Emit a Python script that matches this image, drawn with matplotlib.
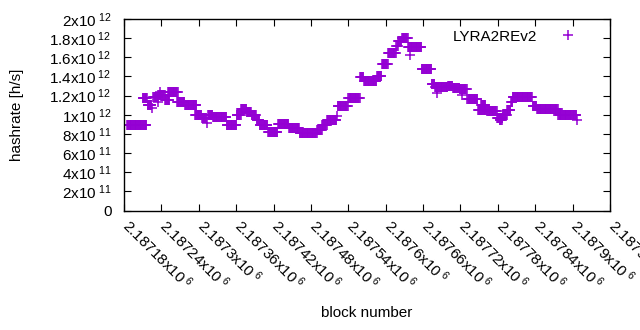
import numpy as np
import matplotlib
matplotlib.use('Agg')
import matplotlib.pyplot as plt
import matplotlib.transforms as mtransforms

plt.rcParams.update({
    'font.family': ['Liberation Sans', 'DejaVu Sans'],
    'font.size': 11,
    'mathtext.fontset': 'custom',
    'mathtext.rm': 'Liberation Sans',
    'mathtext.it': 'Liberation Sans',
})

# block offsets from 2187180 (inclusive runs) and hashrate in units of 1e12 h/s
BASE_BLOCK = 2187180
seg_start = [5, 30, 38, 45, 47, 55, 55, 58, 66, 71, 85, 98, 114, 125, 133, 135,
             143, 165, 181, 188, 197, 205, 213, 218, 231, 247, 265, 282, 310,
             318, 326, 342, 343, 360, 379, 385, 406, 414, 424, 437, 440, 446,
             456, 459, 478, 494, 499, 502, 510, 520, 528, 539, 542, 551, 568,
             573, 583, 599, 603, 608, 615, 621, 624, 656, 663, 697, 727]
seg_end = [36, 37, 44, 45, 54, 55, 65, 58, 73, 86, 97, 116, 124, 132, 133, 142,
           164, 180, 187, 196, 204, 212, 217, 230, 246, 264, 281, 309, 317,
           325, 341, 342, 359, 378, 384, 405, 413, 423, 436, 439, 445, 455,
           477, 459, 493, 498, 509, 502, 519, 527, 538, 550, 542, 567, 582,
           580, 598, 607, 606, 614, 620, 623, 655, 662, 696, 726, 727]
seg_value = [0.89, 1.17, 1.10, 1.07, 1.19, 1.13, 1.21, 1.24, 1.155, 1.235, 1.135,
             1.10, 1.00, 0.965, 0.91, 1.00, 0.975, 0.895, 1.00, 1.057, 1.03,
             1.00, 0.95, 0.89, 0.825, 0.90, 0.865, 0.81, 0.84, 0.89, 0.945,
             0.99, 1.09, 1.18, 1.39, 1.355, 1.40, 1.525, 1.64, 1.72, 1.77,
             1.80, 1.705, 1.625, 1.475, 1.32, 1.285, 1.225, 1.29, 1.305, 1.275,
             1.27, 1.205, 1.16, 1.05, 1.10, 1.04, 0.97, 0.945, 1.00, 1.05,
             1.13, 1.19, 1.09, 1.055, 1.00, 0.945]

x_ticks = [2187180 + 60 * i for i in range(14)]
x_tick_labels = ['2.18718', '2.18724', '2.1873', '2.18736', '2.18742', '2.18748',
                 '2.18754', '2.1876', '2.18766', '2.18772', '2.18778', '2.18784',
                 '2.1879', '2.18796']
y_ticks = [i * 2e11 for i in range(11)]
y_tick_labels = ['0', '2x10$^{\\ 11}$', '4x10$^{\\ 11}$', '6x10$^{\\ 11}$',
                 '8x10$^{\\ 11}$', '1x10$^{\\ 12}$', '1.2x10$^{\\ 12}$',
                 '1.4x10$^{\\ 12}$', '1.6x10$^{\\ 12}$', '1.8x10$^{\\ 12}$',
                 '2x10$^{\\ 12}$']


def main():
    blocks = []
    rates = []
    for s, e, v in zip(seg_start, seg_end, seg_value):
        b = np.arange(s, e + 1)
        blocks.append(BASE_BLOCK + b)
        rates.append(np.full(len(b), v * 1e12))
    blocks = np.concatenate(blocks)
    rates = np.concatenate(rates)

    fig = plt.figure(figsize=(6.4, 3.3), dpi=100)
    ax = fig.add_axes([124 / 640, 1 - 210.5 / 330, 486 / 640, 191.5 / 330])

    ax.plot(blocks, rates, linestyle='none', marker='+', markersize=6.5,
            markeredgewidth=1.1, color='#9400D3', label='LYRA2REv2')

    ax.set_xlim(x_ticks[0], x_ticks[-1])
    ax.set_ylim(0, 2e12)
    ax.set_xticks(x_ticks)
    ax.set_xticklabels([t + 'x10$^{\\ 6}$' for t in x_tick_labels],
                       rotation=-45, ha='left', va='top', rotation_mode='anchor')
    ax.set_yticks(y_ticks)
    ax.set_yticklabels(y_tick_labels)
    ax.tick_params(direction='in', length=5, width=0.8, top=True, right=True,
                   colors='black')
    ax.tick_params(axis='y', pad=9)
    ax.tick_params(axis='x', pad=4)
    shift = mtransforms.ScaledTranslation(8 / 100, 0, fig.dpi_scale_trans)
    for lbl in ax.get_xticklabels():
        lbl.set_transform(lbl.get_transform() + shift)
    for sp in ax.spines.values():
        sp.set_linewidth(1.0)

    ax.set_ylabel('hashrate [h/s]')
    ax.set_xlabel('block number')
    ax.yaxis.set_label_coords(-0.205, 0.5)
    ax.xaxis.set_label_coords(0.5, -0.5)

    ax.legend(loc='upper right', frameon=False, markerfirst=False,
              handlelength=2.5, borderaxespad=0.3, bbox_to_anchor=(0.975, 1.0))

    fig.savefig('out.png', dpi=100)


if __name__ == '__main__':
    main()
